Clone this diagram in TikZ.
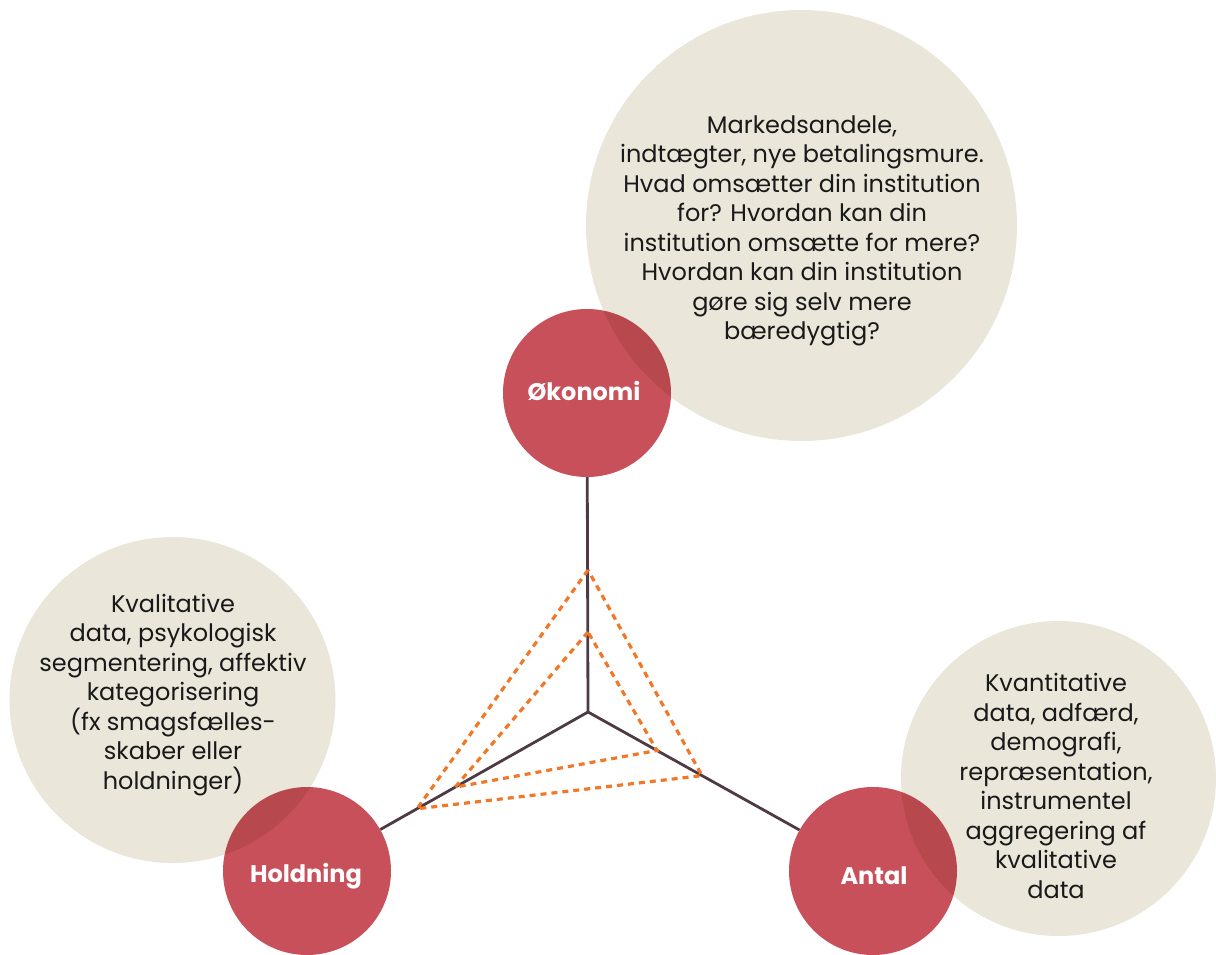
\documentclass[tikz,border=0pt]{standalone}
\usepackage{fontspec}
\setmainfont{Poppins}
\usetikzlibrary{calc}
\definecolor{beige}{HTML}{EBE6DA}
\definecolor{rose}{HTML}{C7505B}
\definecolor{axiscol}{HTML}{4E3A44}
\definecolor{dotcol}{HTML}{F07828}
\tikzset{
  bub/.style={circle, fill=beige, draw=none, inner sep=0pt},
  redc/.style={circle, fill=rose, draw=none, inner sep=0pt, minimum size=168pt},
  lab/.style={text=white, inner sep=0pt, font=\fontsize{24}{28}\selectfont\bfseries},
  bodytext/.style={align=center, text=black!90, inner sep=0pt,
    font=\fontsize{24}{29.5}\selectfont},
  axisline/.style={draw=axiscol, line width=2.8pt},
  dotline/.style={draw=dotcol, line width=3.2pt, dash pattern=on 6pt off 5pt}
}
\begin{document}
\begin{tikzpicture}[x=1pt,y=-1pt]
\useasboundingbox (0,0) rectangle (1216,954);
% beige bubbles
\node[bub, minimum size=431pt] (bok) at (801.5,225.5) {};
\node[bub, minimum size=326pt] (bho) at (172.5,700) {};
\node[bub, minimum size=315pt] (ban) at (1058.5,778.5) {};
% texts
\node[bodytext] (tok) at (802,231) {Markedsandele,\\indtægter, nye betalingsmure.\\Hvad omsætter din institution\\for? Hvordan kan din\\institution omsætte for mere?\\Hvordan kan din institution\\gøre sig selv mere\\bæredygtig?};
\node[bodytext] (tho) at (173,695) {Kvalitative\\data, psykologisk\\segmentering, affektiv\\kategorisering\\(fx smagsfælles-\\skaber eller\\holdninger)};
\node[bodytext] (tan) at (1056,786) {Kvantitative\\data, adfærd,\\demografi,\\repræsentation,\\instrumentel\\aggregering af\\kvalitative\\data};
% red circles
\begin{scope}[blend mode=multiply]
\node[redc] (ok) at (587,393) {};
\node[redc] (ho) at (307,871) {};
\node[redc] (an) at (873,871) {};
\end{scope}
\node[lab] (lok) at (584,391) {Økonomi};
\node[lab] (lho) at (306,876) {Holdning};
\node[lab] (lan) at (874,876) {Antal};
% axes
\coordinate (c) at (588,712);
\draw[axisline] (ok) -- (c);
\draw[axisline] (c) -- (ho);
\draw[axisline] (c) -- (an);
% dotted triangles
\coordinate (t1) at (588,570);
\coordinate (l1) at ($(c)!0.6085!(ho.center)$);
\coordinate (r1) at ($(c)!0.4!(an.center)$);
\coordinate (t2) at (588,632);
\coordinate (l2) at ($(c)!0.473!(ho.center)$);
\coordinate (r2) at ($(c)!0.242!(an.center)$);
\draw[dotline] (t1) -- (l1) -- (r1) -- cycle;
\draw[dotline] (t2) -- (l2) -- (r2) -- cycle;
\end{tikzpicture}
\end{document}
